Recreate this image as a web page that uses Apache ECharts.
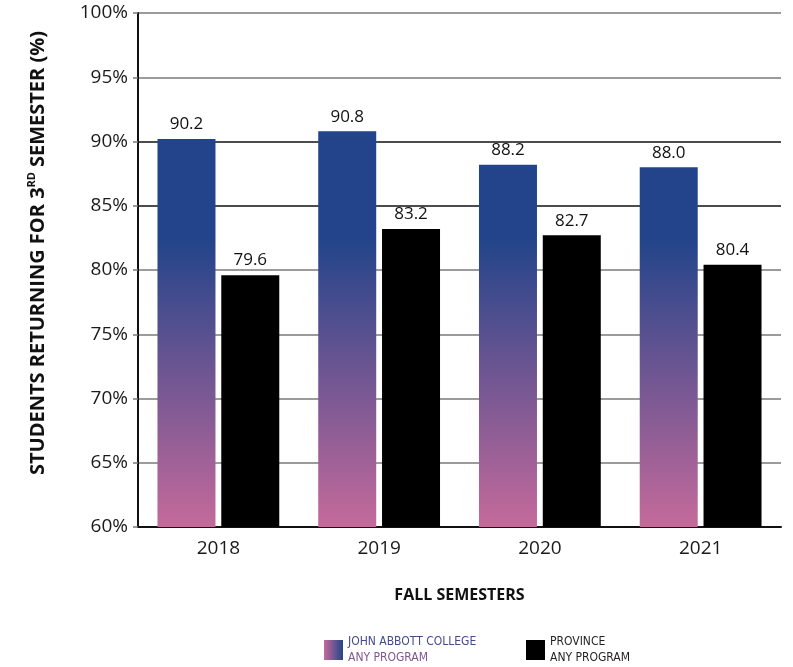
<!DOCTYPE html>
<html>
<head>
<meta charset="utf-8">
<title>Students returning for 3rd semester</title>
<script src="https://cdn.jsdelivr.net/npm/echarts@6/dist/echarts.min.js"></script>
<style>
    html, body { margin: 0; padding: 0; background: #fff; }
    #chart { width: 793px; height: 667px; }
</style>
</head>
<body>
<div id="chart"></div>
<script>
// data
const years = ['2018', '2019', '2020', '2021'];
const johnAbbott = [90.2, 90.8, 88.2, 88.0];
const province = [79.6, 83.2, 82.7, 80.4];
const yTicks = { min: 60, max: 100, step: 5 };

const seriesNames = ['JOHN ABBOTT COLLEGE\nANY PROGRAM', 'PROVINCE\nANY PROGRAM'];

let chart = echarts.init(document.getElementById('chart'));

// bars share one gradient fixed to the plot: blue up top, pink at the base
const barGradient = {
    type: 'linear', x: 0, y: 240, x2: 0, y2: 527, global: true,
    colorStops: [
        { offset: 0, color: '#23448a' },
        { offset: 1, color: '#c56a9b' }
    ]
};
const legendGradient = {
    type: 'linear', x: 0, y: 0, x2: 1, y2: 0,
    colorStops: [
        { offset: 0, color: '#c56a9b' },
        { offset: 1, color: '#23448a' }
    ]
};

// darker grid lines at 85% and 90%, as in the original
const gridColors = ['#7a7a7a', '#7a7a7a', '#7a7a7a', '#7a7a7a', '#7a7a7a', '#111', '#111', '#7a7a7a', '#7a7a7a'];

const labelFont = '"Open Sans", "Noto Sans", sans-serif';
const narrowFont = '"DejaVu Sans Condensed", "Liberation Sans Narrow", sans-serif';

let option = {
    animation: false,
    grid: { left: 138, right: 12, top: 13, bottom: 140 },
    legend: [
        {
            data: [{ name: seriesNames[0], icon: 'rect', itemStyle: { color: legendGradient } }],
            left: 319, top: 631,
            itemWidth: 19, itemHeight: 20, itemGap: 0,
            formatter: () => '{a|JOHN ABBOTT COLLEGE}\n{b|ANY PROGRAM}',
            textStyle: {
                rich: {
                    a: { fontFamily: narrowFont, fontSize: 12, color: '#444a8b', lineHeight: 16 },
                    b: { fontFamily: narrowFont, fontSize: 12, color: '#7f5690', lineHeight: 16 }
                }
            }
        },
        {
            data: [{ name: seriesNames[1], icon: 'rect', itemStyle: { color: '#000' } }],
            left: 521, top: 631,
            itemWidth: 19, itemHeight: 20, itemGap: 0,
            formatter: () => '{a|PROVINCE}\n{a|ANY PROGRAM}',
            textStyle: {
                rich: {
                    a: { fontFamily: narrowFont, fontSize: 12, color: '#231f20', lineHeight: 16 }
                }
            }
        }
    ],
    xAxis: {
        type: 'category',
        data: years,
        name: 'FALL SEMESTERS',
        nameLocation: 'middle',
        nameGap: 60,
        nameTextStyle: { fontFamily: labelFont, fontWeight: 'bold', fontSize: 16, color: '#111' },
        axisLine: { lineStyle: { color: '#111', width: 2 } },
        axisTick: { inside: true, length: 12, lineStyle: { color: '#111', width: 1.5 } },
        axisLabel: { fontFamily: labelFont, fontSize: 19, color: '#1a1a1a', margin: 12 }
    },
    yAxis: {
        type: 'value',
        min: yTicks.min,
        max: yTicks.max,
        interval: yTicks.step,
        name: '{m|STUDENTS RETURNING FOR 3}{s|RD}{m|SEMESTER (%)}',
        nameLocation: 'middle',
        nameGap: 88,
        nameTextStyle: {
            padding: [0, 0, 0, 34],
            rich: {
                m: { fontFamily: labelFont, fontWeight: 'bold', fontSize: 20, color: '#111', lineHeight: 24 },
                s: { fontFamily: labelFont, fontWeight: 'bold', fontSize: 11, color: '#111', lineHeight: 24, verticalAlign: 'top', padding: [0, 5, 0, 0] }
            }
        },
        axisLine: { show: true, lineStyle: { color: '#111', width: 2 } },
        axisTick: { show: true, length: 5, lineStyle: { color: '#7a7a7a', width: 1.5 } },
        axisLabel: { fontFamily: labelFont, fontSize: 19, color: '#1a1a1a', margin: 10, formatter: '{value}%' },
        splitLine: { lineStyle: { color: gridColors, width: 1.5 } }
    },
    series: [
        {
            name: seriesNames[0],
            type: 'bar',
            data: johnAbbott,
            barWidth: 58,
            barGap: '10%',
            itemStyle: { color: barGradient },
            label: {
                show: true, position: 'top', distance: 6,
                formatter: p => p.value.toFixed(1),
                fontFamily: labelFont, fontSize: 17, color: '#111'
            }
        },
        {
            name: seriesNames[1],
            type: 'bar',
            data: province,
            barWidth: 58,
            itemStyle: { color: '#000' },
            label: {
                show: true, position: 'top', distance: 6,
                formatter: p => p.value.toFixed(1),
                fontFamily: labelFont, fontSize: 17, color: '#111'
            }
        }
    ]
};

chart.setOption(option);
</script>
</body>
</html>
